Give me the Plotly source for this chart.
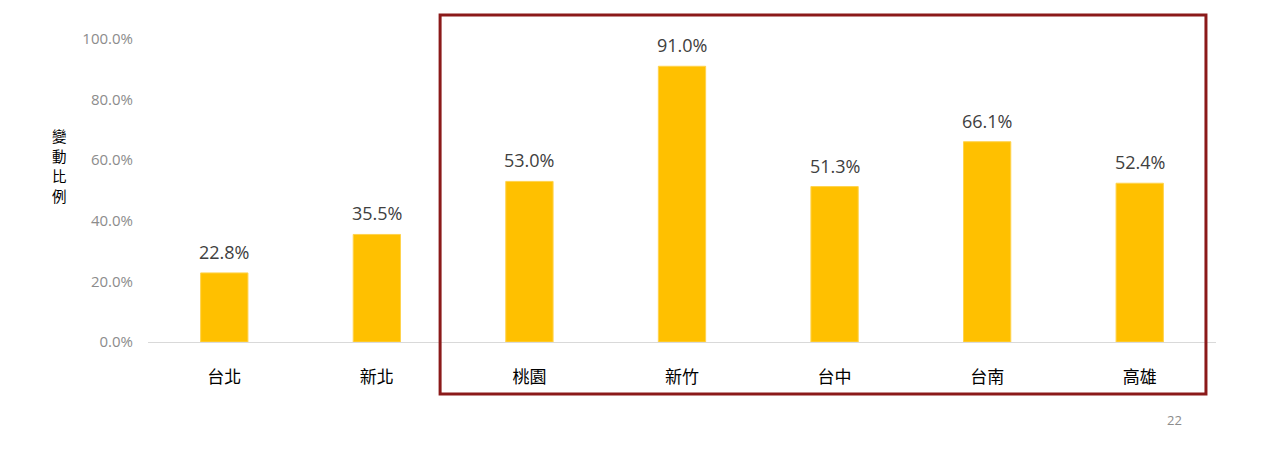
import plotly.graph_objects as go

categories = ["台北", "新北", "桃園", "新竹", "台中", "台南", "高雄"]
values = [22.8, 35.5, 53.0, 91.0, 51.3, 66.1, 52.4]
tick_vals = [0, 20, 40, 60, 80, 100]
tick_text = [f"{v:.1f}%" for v in tick_vals]
y_title = "變動比例"
page_number = "22"

fig = go.Figure()
fig.add_trace(go.Bar(
    x=categories, y=values,
    marker=dict(color="#FFC000", line=dict(color="#FFD34D", width=1)),
    width=0.31, hoverinfo="skip",
))

for c, v in zip(categories, values):
    fig.add_annotation(x=c, y=v, text=f"{v:.1f}%", showarrow=False,
                       yshift=21, font=dict(size=18, color="#404040",
                                            family="Open Sans, Noto Sans CJK TC"))

for i, ch in enumerate(y_title):
    fig.add_annotation(xref="paper", yref="paper", x=-0.0824, y=0.683,
                       xanchor="center", yanchor="middle",
                       yshift=-20 * i, text=ch, showarrow=False,
                       font=dict(size=14.5, color="#000000", family="Noto Sans CJK TC"))
fig.add_annotation(xref="paper", yref="paper", x=0.9616, y=-0.257,
                   xanchor="center", yanchor="middle",
                   text=page_number, showarrow=False,
                   font=dict(size=13, color="#8c8c8c", family="Open Sans"))

fig.add_shape(type="rect", xref="paper", yref="paper",
              x0=0.2735, x1=0.9906, y0=-0.172, y1=1.079,
              line=dict(color="#8B1A1A", width=3))

fig.update_layout(
    width=1280, height=453,
    margin=dict(l=140, r=72, t=31, b=119),
    paper_bgcolor="white", plot_bgcolor="white",
    showlegend=False,
    font=dict(family="Noto Sans CJK TC"),
)
fig.update_yaxes(range=[0, 100], tickvals=tick_vals, ticktext=tick_text,
                 showgrid=False, zeroline=False, showline=False,
                 ticklabelstandoff=14,
                 tickfont=dict(size=15, color="#8c8c8c", family="Open Sans"))
fig.update_xaxes(showline=True, linecolor="#d9d9d9", linewidth=1,
                 ticklabelstandoff=20,
                 tickfont=dict(size=17, color="#000000", family="Noto Sans CJK TC"))

fig.write_html("out.html")
